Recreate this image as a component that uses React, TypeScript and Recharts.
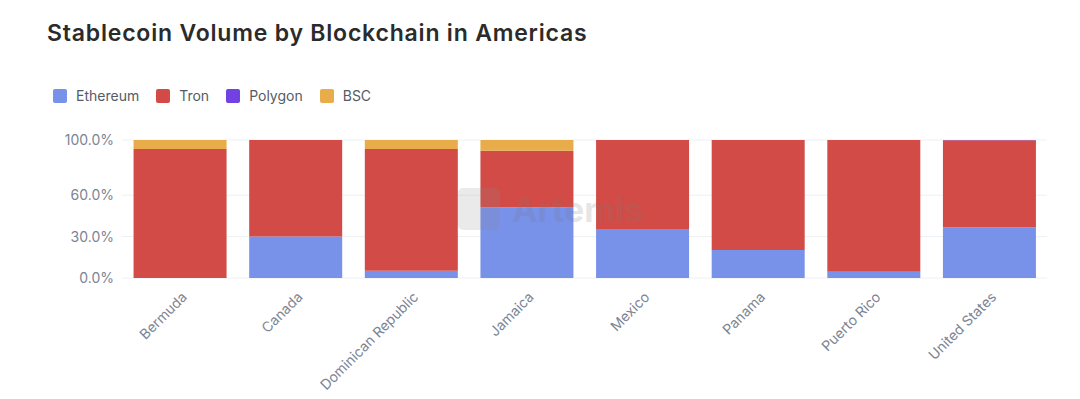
import React from "react";
import { BarChart, Bar, XAxis, YAxis, CartesianGrid } from "recharts";

const countries = [
  "Bermuda",
  "Canada",
  "Dominican Republic",
  "Jamaica",
  "Mexico",
  "Panama",
  "Puerto Rico",
  "United States",
];
const ethereum = [0, 30.0, 5.3, 51.2, 35.5, 20.3, 4.6, 36.7];
const tron = [93.5, 70.0, 88.2, 41.1, 64.5, 79.7, 95.4, 63.1];
const polygon = [0, 0, 0, 0, 0, 0, 0, 0.2];
const bsc = [6.5, 0, 6.5, 7.7, 0, 0, 0, 0];
const yTicks = [0, 30, 60, 100];

const series = [
  { key: "Ethereum", values: ethereum, color: "#7891E9" },
  { key: "Tron", values: tron, color: "#D34B46" },
  { key: "Polygon", values: polygon, color: "#7141E1" },
  { key: "BSC", values: bsc, color: "#E9AC4B" },
];

const data = countries.map((name, i) => {
  const row: Record<string, string | number> = { name };
  series.forEach((s) => (row[s.key] = s.values[i]));
  return row;
});

const font = "Inter, 'Noto Sans', sans-serif";

function XTick(props: any) {
  const { x, y, payload } = props;
  return (
    <text
      x={x + 8}
      y={y + 12}
      transform={`rotate(-45, ${x + 8}, ${y + 12})`}
      textAnchor="end"
      fill="#7b8493"
      fontSize={14}
      fontFamily={font}
    >
      {payload.value}
    </text>
  );
}

export default function App() {
  return (
    <div
      style={{
        position: "fixed",
        left: 0,
        top: 0,
        width: 1080,
        height: 399,
        background: "#fff",
        fontFamily: font,
      }}
    >
      <div
        style={{
          position: "absolute",
          left: 47,
          top: 22,
          fontSize: 23,
          lineHeight: 1,
          letterSpacing: 0.8,
          fontWeight: 600,
          color: "#2b2b2b",
          whiteSpace: "nowrap",
        }}
      >
        Stablecoin Volume by Blockchain in Americas
      </div>
      <div
        style={{
          position: "absolute",
          left: 53,
          top: 89,
          display: "flex",
          alignItems: "center",
          fontSize: 14,
          lineHeight: "14px",
          color: "#555b66",
        }}
      >
        {series.map((s) => (
          <div key={s.key} style={{ display: "flex", alignItems: "center", marginRight: 17 }}>
            <span
              style={{
                width: 14,
                height: 14,
                borderRadius: 2,
                background: s.color,
                marginRight: 9,
                display: "inline-block",
              }}
            />
            {s.key}
          </div>
        ))}
      </div>
      <div
        style={{
          position: "absolute",
          left: 458,
          top: 188,
          display: "flex",
          alignItems: "center",
          opacity: 0.18,
          color: "#777",
          fontSize: 34,
          fontWeight: 700,
          zIndex: 2,
          pointerEvents: "none",
        }}
      >
        <span
          style={{
            width: 42,
            height: 42,
            borderRadius: 5,
            background: "#888",
            marginRight: 12,
            display: "inline-block",
          }}
        />
        Artemis
      </div>
      <div style={{ position: "absolute", left: 0, top: 0 }}>
        <BarChart
          width={1080}
          height={399}
          data={data}
          margin={{ top: 140, right: 33, bottom: 0, left: 0 }}
          barCategoryGap="10%"
        >
          <CartesianGrid vertical={false} stroke="#eef0f3" />
          <XAxis
            dataKey="name"
            axisLine={false}
            tickLine={false}
            height={121}
            interval={0}
            tick={<XTick />}
          />
          <YAxis
            width={122}
            domain={[0, 100]}
            ticks={yTicks}
            axisLine={false}
            tickLine={false}
            tickFormatter={(v: number) => `${v.toFixed(1)}%`}
            tick={{ fill: "#7b8493", fontSize: 14, fontFamily: font }}
          />
          {series.map((s) => (
            <Bar
              key={s.key}
              dataKey={s.key}
              stackId="a"
              fill={s.color}
              isAnimationActive={false}
            />
          ))}
        </BarChart>
      </div>
    </div>
  );
}
